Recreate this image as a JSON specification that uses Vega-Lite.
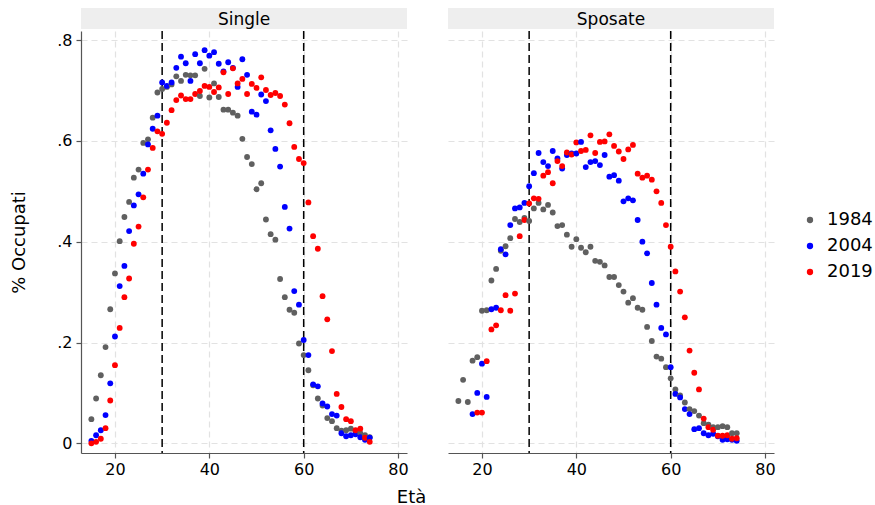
{
  "$schema": "https://vega.github.io/schema/vega-lite/v6.json",
  "background": "white",
  "padding": {"left": 10, "top": 8, "right": 5, "bottom": 5},
  "config": {
    "font": "DejaVu Sans",
    "view": {"stroke": null},
    "axis": {
      "labelFont": "DejaVu Sans", "labelFontSize": 16, "labelColor": "black",
      "titleFont": "DejaVu Sans", "titleFontSize": 18, "titleFontWeight": "normal", "titleColor": "black",
      "domainColor": "#555555", "domainWidth": 1.2, "tickColor": "#555555", "tickWidth": 1.2, "tickSize": 5,
      "gridColor": "#e2e2e2", "gridDash": [6, 4], "gridWidth": 1.2
    }
  },
  "datasets": {
    "occ": [
      {"panel":"Single","age":15,"1984":0.048,"2004":0.005,"2019":0.000},
      {"panel":"Single","age":16,"1984":0.089,"2004":0.016,"2019":0.003},
      {"panel":"Single","age":17,"1984":0.135,"2004":0.026,"2019":0.009},
      {"panel":"Single","age":18,"1984":0.191,"2004":0.056,"2019":0.030},
      {"panel":"Single","age":19,"1984":0.266,"2004":0.119,"2019":0.085},
      {"panel":"Single","age":20,"1984":0.337,"2004":0.212,"2019":0.155},
      {"panel":"Single","age":21,"1984":0.401,"2004":0.312,"2019":0.229},
      {"panel":"Single","age":22,"1984":0.449,"2004":0.352,"2019":0.290},
      {"panel":"Single","age":23,"1984":0.479,"2004":0.421,"2019":0.327},
      {"panel":"Single","age":24,"1984":0.527,"2004":0.472,"2019":0.396},
      {"panel":"Single","age":25,"1984":0.543,"2004":0.494,"2019":0.430},
      {"panel":"Single","age":26,"1984":0.596,"2004":0.535,"2019":0.488},
      {"panel":"Single","age":27,"1984":0.603,"2004":0.593,"2019":0.543},
      {"panel":"Single","age":28,"1984":0.646,"2004":0.624,"2019":0.586},
      {"panel":"Single","age":29,"1984":0.696,"2004":0.650,"2019":0.619},
      {"panel":"Single","age":30,"1984":0.703,"2004":0.716,"2019":0.614},
      {"panel":"Single","age":31,"1984":0.707,"2004":0.709,"2019":0.636},
      {"panel":"Single","age":32,"1984":0.712,"2004":0.716,"2019":0.661},
      {"panel":"Single","age":33,"1984":0.728,"2004":0.745,"2019":0.681},
      {"panel":"Single","age":34,"1984":0.719,"2004":0.767,"2019":0.690},
      {"panel":"Single","age":35,"1984":0.731,"2004":0.754,"2019":0.683},
      {"panel":"Single","age":36,"1984":0.730,"2004":0.719,"2019":0.683},
      {"panel":"Single","age":37,"1984":0.730,"2004":0.772,"2019":0.693},
      {"panel":"Single","age":38,"1984":0.689,"2004":0.754,"2019":0.699},
      {"panel":"Single","age":39,"1984":0.743,"2004":0.780,"2019":0.709},
      {"panel":"Single","age":40,"1984":0.686,"2004":0.769,"2019":0.707},
      {"panel":"Single","age":41,"1984":0.714,"2004":0.776,"2019":0.697},
      {"panel":"Single","age":42,"1984":0.687,"2004":0.753,"2019":0.706},
      {"panel":"Single","age":43,"1984":0.662,"2004":0.738,"2019":0.736},
      {"panel":"Single","age":44,"1984":0.662,"2004":0.756,"2019":0.693},
      {"panel":"Single","age":45,"1984":0.656,"2004":0.745,"2019":0.744},
      {"panel":"Single","age":46,"1984":0.650,"2004":0.707,"2019":0.714},
      {"panel":"Single","age":47,"1984":0.604,"2004":0.762,"2019":0.723},
      {"panel":"Single","age":48,"1984":0.568,"2004":0.731,"2019":0.693},
      {"panel":"Single","age":49,"1984":0.554,"2004":0.658,"2019":0.713},
      {"panel":"Single","age":50,"1984":0.504,"2004":0.652,"2019":0.705},
      {"panel":"Single","age":51,"1984":0.516,"2004":0.692,"2019":0.726},
      {"panel":"Single","age":52,"1984":0.444,"2004":0.679,"2019":0.701},
      {"panel":"Single","age":53,"1984":0.415,"2004":0.621,"2019":0.691},
      {"panel":"Single","age":54,"1984":0.404,"2004":0.584,"2019":0.695},
      {"panel":"Single","age":55,"1984":0.326,"2004":0.549,"2019":0.689},
      {"panel":"Single","age":56,"1984":0.290,"2004":0.469,"2019":0.672},
      {"panel":"Single","age":57,"1984":0.265,"2004":0.426,"2019":0.635},
      {"panel":"Single","age":58,"1984":0.259,"2004":0.302,"2019":0.588},
      {"panel":"Single","age":59,"1984":0.198,"2004":0.275,"2019":0.564},
      {"panel":"Single","age":60,"1984":0.175,"2004":0.205,"2019":0.556},
      {"panel":"Single","age":61,"1984":0.145,"2004":0.175,"2019":0.478},
      {"panel":"Single","age":62,"1984":0.115,"2004":0.117,"2019":0.411},
      {"panel":"Single","age":63,"1984":0.089,"2004":0.113,"2019":0.386},
      {"panel":"Single","age":64,"1984":0.075,"2004":0.079,"2019":0.292},
      {"panel":"Single","age":65,"1984":0.050,"2004":0.073,"2019":0.246},
      {"panel":"Single","age":66,"1984":0.044,"2004":0.058,"2019":0.183},
      {"panel":"Single","age":67,"1984":0.030,"2004":0.055,"2019":0.098},
      {"panel":"Single","age":68,"1984":0.025,"2004":0.020,"2019":0.072},
      {"panel":"Single","age":69,"1984":0.026,"2004":0.014,"2019":0.048},
      {"panel":"Single","age":70,"1984":0.029,"2004":0.016,"2019":0.044},
      {"panel":"Single","age":71,"1984":0.024,"2004":0.018,"2019":0.026},
      {"panel":"Single","age":72,"1984":0.020,"2004":0.012,"2019":0.029},
      {"panel":"Single","age":73,"1984":0.016,"2004":0.007,"2019":0.011},
      {"panel":"Single","age":74,"1984":0.012,"2004":0.011,"2019":0.003},
      {"panel":"Sposate","age":15,"1984":0.084,"2004":null,"2019":null},
      {"panel":"Sposate","age":16,"1984":0.126,"2004":null,"2019":null},
      {"panel":"Sposate","age":17,"1984":0.082,"2004":null,"2019":null},
      {"panel":"Sposate","age":18,"1984":0.164,"2004":0.058,"2019":null},
      {"panel":"Sposate","age":19,"1984":0.171,"2004":0.100,"2019":0.061},
      {"panel":"Sposate","age":20,"1984":0.263,"2004":0.158,"2019":0.061},
      {"panel":"Sposate","age":21,"1984":0.264,"2004":0.092,"2019":0.163},
      {"panel":"Sposate","age":22,"1984":0.323,"2004":0.266,"2019":0.226},
      {"panel":"Sposate","age":23,"1984":0.346,"2004":0.269,"2019":0.234},
      {"panel":"Sposate","age":24,"1984":0.382,"2004":0.385,"2019":0.264},
      {"panel":"Sposate","age":25,"1984":0.391,"2004":0.375,"2019":0.294},
      {"panel":"Sposate","age":26,"1984":0.407,"2004":0.433,"2019":0.263},
      {"panel":"Sposate","age":27,"1984":0.445,"2004":0.466,"2019":0.297},
      {"panel":"Sposate","age":28,"1984":0.439,"2004":0.468,"2019":0.411},
      {"panel":"Sposate","age":29,"1984":0.447,"2004":0.477,"2019":0.443},
      {"panel":"Sposate","age":30,"1984":0.441,"2004":0.510,"2019":0.476},
      {"panel":"Sposate","age":31,"1984":0.466,"2004":0.536,"2019":0.486},
      {"panel":"Sposate","age":32,"1984":0.477,"2004":0.576,"2019":0.485},
      {"panel":"Sposate","age":33,"1984":0.464,"2004":0.558,"2019":0.531},
      {"panel":"Sposate","age":34,"1984":0.473,"2004":0.550,"2019":0.538},
      {"panel":"Sposate","age":35,"1984":0.458,"2004":0.580,"2019":0.516},
      {"panel":"Sposate","age":36,"1984":0.431,"2004":0.565,"2019":0.560},
      {"panel":"Sposate","age":37,"1984":0.433,"2004":0.545,"2019":0.550},
      {"panel":"Sposate","age":38,"1984":0.414,"2004":0.572,"2019":0.577},
      {"panel":"Sposate","age":39,"1984":0.390,"2004":0.575,"2019":0.573},
      {"panel":"Sposate","age":40,"1984":0.405,"2004":0.575,"2019":0.597},
      {"panel":"Sposate","age":41,"1984":0.388,"2004":0.598,"2019":0.580},
      {"panel":"Sposate","age":42,"1984":0.379,"2004":0.548,"2019":0.582},
      {"panel":"Sposate","age":43,"1984":0.390,"2004":0.558,"2019":0.611},
      {"panel":"Sposate","age":44,"1984":0.362,"2004":0.560,"2019":0.576},
      {"panel":"Sposate","age":45,"1984":0.360,"2004":0.552,"2019":0.598},
      {"panel":"Sposate","age":46,"1984":0.353,"2004":0.572,"2019":0.599},
      {"panel":"Sposate","age":47,"1984":0.330,"2004":0.529,"2019":0.613},
      {"panel":"Sposate","age":48,"1984":0.330,"2004":0.532,"2019":0.590},
      {"panel":"Sposate","age":49,"1984":0.314,"2004":0.521,"2019":0.579},
      {"panel":"Sposate","age":50,"1984":0.301,"2004":0.480,"2019":0.564},
      {"panel":"Sposate","age":51,"1984":0.279,"2004":0.486,"2019":0.583},
      {"panel":"Sposate","age":52,"1984":0.288,"2004":0.482,"2019":0.592},
      {"panel":"Sposate","age":53,"1984":0.269,"2004":0.443,"2019":0.535},
      {"panel":"Sposate","age":54,"1984":0.265,"2004":0.400,"2019":0.527},
      {"panel":"Sposate","age":55,"1984":0.231,"2004":0.377,"2019":0.531},
      {"panel":"Sposate","age":56,"1984":0.203,"2004":0.318,"2019":0.523},
      {"panel":"Sposate","age":57,"1984":0.172,"2004":0.275,"2019":0.500},
      {"panel":"Sposate","age":58,"1984":0.168,"2004":0.229,"2019":0.477},
      {"panel":"Sposate","age":59,"1984":0.151,"2004":0.216,"2019":0.433},
      {"panel":"Sposate","age":60,"1984":0.129,"2004":0.151,"2019":0.390},
      {"panel":"Sposate","age":61,"1984":0.107,"2004":0.098,"2019":0.341},
      {"panel":"Sposate","age":62,"1984":0.095,"2004":0.091,"2019":0.301},
      {"panel":"Sposate","age":63,"1984":0.081,"2004":0.068,"2019":0.250},
      {"panel":"Sposate","age":64,"1984":0.068,"2004":0.058,"2019":0.184},
      {"panel":"Sposate","age":65,"1984":0.064,"2004":0.028,"2019":0.140},
      {"panel":"Sposate","age":66,"1984":0.055,"2004":0.030,"2019":0.107},
      {"panel":"Sposate","age":67,"1984":0.040,"2004":0.020,"2019":0.049},
      {"panel":"Sposate","age":68,"1984":0.037,"2004":0.016,"2019":0.032},
      {"panel":"Sposate","age":69,"1984":0.032,"2004":0.019,"2019":0.027},
      {"panel":"Sposate","age":70,"1984":0.032,"2004":0.014,"2019":0.015},
      {"panel":"Sposate","age":71,"1984":0.034,"2004":0.007,"2019":0.015},
      {"panel":"Sposate","age":72,"1984":0.032,"2004":0.008,"2019":0.016},
      {"panel":"Sposate","age":73,"1984":0.020,"2004":0.007,"2019":0.009},
      {"panel":"Sposate","age":74,"1984":0.020,"2004":0.005,"2019":0.010}
    ]
  },
  "spacing": 22,
  "hconcat": [
    {
      "bounds": "flush",
      "spacing": 2,
      "vconcat": [
        {
          "width": 326, "height": 21,
          "view": {"fill": "#eeeeee", "stroke": null},
          "data": {"values": [{"label": "Single"}]},
          "mark": {"type": "text", "font": "DejaVu Sans", "fontSize": 17, "color": "black", "baseline": "middle", "dy": 1},
          "encoding": {"text": {"field": "label", "type": "nominal"}}
        },
        {
          "width": 326, "height": 422,
          "layer": [
            {
              "data": {"values": [{"ref": 30}, {"ref": 60}]},
              "mark": {"type": "rule", "color": "black", "strokeDash": [8, 4], "strokeWidth": 1.5},
              "encoding": {"x": {"field": "ref", "type": "quantitative"}}
            },
            {
              "data": {"name": "occ"},
              "transform": [
                {"filter": "datum.panel == 'Single'"},
                {"fold": ["1984", "2004", "2019"], "as": ["year", "occ"]},
                {"filter": "isValid(datum.occ)"}
              ],
              "mark": {"type": "circle", "size": 34, "opacity": 1},
              "encoding": {
                "x": {"field": "age", "type": "quantitative",
                  "scale": {"domain": [12.8, 81.9], "nice": false, "zero": false},
                  "axis": {"values": [20, 40, 60, 80], "title": "Età", "titleX": 330, "titlePadding": 11, "labelPadding": 3, "labelFlush": false, "grid": true}},
                "y": {"field": "occ", "type": "quantitative",
                  "scale": {"domain": [-0.0192, 0.818], "nice": false, "zero": false},
                  "axis": {"values": [0, 0.2, 0.4, 0.6, 0.8], "labelExpr": "datum.value == 0 ? '0' : replace(format(datum.value, '.1f'), '0.', '.')", "title": "% Occupati", "titlePadding": 28, "labelPadding": 4, "grid": true}},
                "color": {"field": "year", "type": "nominal",
                  "scale": {"domain": ["1984", "2004", "2019"], "range": ["#606060", "#0000ff", "#ff0000"]},
                  "legend": {"title": null, "orient": "none", "legendX": 720, "legendY": 203, "labelFontSize": 18, "labelFont": "DejaVu Sans", "labelColor": "black", "symbolType": "circle", "symbolSize": 40, "rowPadding": 8, "labelOffset": 8}}
              }
            }
          ]
        }
      ]
    },
    {
      "bounds": "flush",
      "spacing": 2,
      "vconcat": [
        {
          "width": 326, "height": 21,
          "view": {"fill": "#eeeeee", "stroke": null},
          "data": {"values": [{"label": "Sposate"}]},
          "mark": {"type": "text", "font": "DejaVu Sans", "fontSize": 17, "color": "black", "baseline": "middle", "dy": 1},
          "encoding": {"text": {"field": "label", "type": "nominal"}}
        },
        {
          "width": 326, "height": 422,
          "layer": [
            {
              "data": {"values": [{"ref": 30}, {"ref": 60}]},
              "mark": {"type": "rule", "color": "black", "strokeDash": [8, 4], "strokeWidth": 1.5},
              "encoding": {"x": {"field": "ref", "type": "quantitative"}}
            },
            {
              "data": {"name": "occ"},
              "transform": [
                {"filter": "datum.panel == 'Sposate'"},
                {"fold": ["1984", "2004", "2019"], "as": ["year", "occ"]},
                {"filter": "isValid(datum.occ)"}
              ],
              "mark": {"type": "circle", "size": 34, "opacity": 1},
              "encoding": {
                "x": {"field": "age", "type": "quantitative",
                  "scale": {"domain": [12.8, 81.9], "nice": false, "zero": false},
                  "axis": {"values": [20, 40, 60, 80], "title": null, "labelPadding": 3, "labelFlush": false, "grid": true}},
                "y": {"field": "occ", "type": "quantitative",
                  "scale": {"domain": [-0.0192, 0.818], "nice": false, "zero": false},
                  "axis": {"values": [0, 0.2, 0.4, 0.6, 0.8], "labels": false, "ticks": false, "domain": false, "title": null, "grid": true}},
                "color": {"field": "year", "type": "nominal",
                  "scale": {"domain": ["1984", "2004", "2019"], "range": ["#606060", "#0000ff", "#ff0000"]},
                  "legend": {"title": null, "orient": "none", "legendX": 720, "legendY": 203, "labelFontSize": 18, "labelFont": "DejaVu Sans", "labelColor": "black", "symbolType": "circle", "symbolSize": 40, "rowPadding": 8, "labelOffset": 8}}
              }
            }
          ]
        }
      ]
    }
  ]
}
